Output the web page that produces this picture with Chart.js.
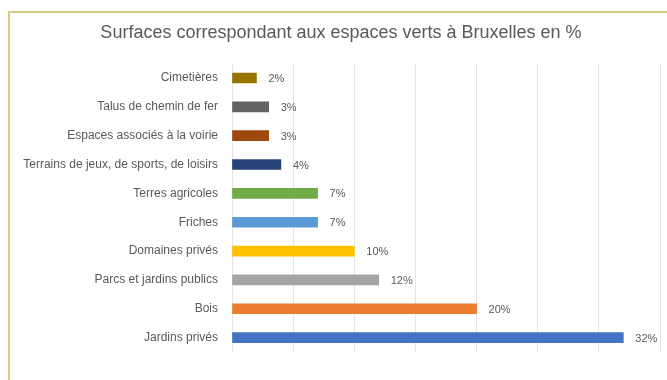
<!DOCTYPE html>
<html>
<head>
<meta charset="utf-8">
<script src="https://cdn.jsdelivr.net/npm/chart.js@4"></script>
<style>
  html, body { margin: 0; padding: 0; background: #fff; }
  #wrap { position: relative; width: 667px; height: 380px; overflow: hidden; }
  #frame { position: absolute; left: 8px; top: 11px; width: 700px; height: 400px;
           border-left: 2px solid #d5cc8a; border-top: 2px solid #d5cc8a; }
  canvas { position: absolute; left: 0; top: 0; }
</style>
</head>
<body>
<div id="wrap">
  <div id="frame"></div>
  <canvas id="chart" width="667" height="380"></canvas>
</div>
<script>
// catégories, de haut en bas
const categories = [
    'Cimetières',
    'Talus de chemin de fer',
    'Espaces associés à la voirie',
    'Terrains de jeux, de sports, de loisirs',
    'Terres agricoles',
    'Friches',
    'Domaines privés',
    'Parcs et jardins publics',
    'Bois',
    'Jardins privés'
];
const values = [2, 3, 3, 4, 7, 7, 10, 12, 20, 32];
const barColors = ['#997300', '#636363', '#9e480e', '#264478', '#70ad47',
                   '#5b9bd5', '#ffc000', '#a5a5a5', '#ed7d31', '#4472c4'];
const xTicks = [0, 5, 10, 15, 20, 25, 30, 35];

const TEXT = '#595959';
const FONT = "'Liberation Sans', sans-serif";

// étiquettes de valeur au bout des barres
const valueLabels = {
    id: 'valueLabels',
    afterDatasetsDraw(chart) {
        const { ctx } = chart;
        const meta = chart.getDatasetMeta(0);
        ctx.save();
        ctx.font = '11px ' + FONT;
        ctx.fillStyle = TEXT;
        ctx.textBaseline = 'middle';
        meta.data.forEach((bar, i) => {
            ctx.fillText(values[i] + '%', bar.x + 12, bar.y + 1);
        });
        ctx.restore();
    }
};

new Chart(document.getElementById('chart'), {
    type: 'bar',
    data: {
        labels: categories,
        datasets: [{
            data: values,
            backgroundColor: barColors,
            barThickness: 10
        }]
    },
    options: {
        indexAxis: 'y',
        responsive: false,
        animation: false,
        layout: { padding: { top: 0, right: 7, bottom: 28, left: 22 } },
        scales: {
            x: {
                min: 0, max: 35,
                afterBuildTicks(scale) { scale.ticks = xTicks.map(v => ({ value: v })); },
                ticks: { display: false },
                grid: { color: '#e4e4e4', drawTicks: false },
                border: { display: false }
            },
            y: {
                afterFit(scale) { scale.width = 210; },
                grid: { display: false },
                border: { display: false },
                ticks: { color: TEXT, font: { family: FONT, size: 12 }, padding: 6 }
            }
        },
        plugins: {
            legend: { display: false },
            tooltip: { enabled: false },
            title: {
                display: true,
                text: 'Surfaces correspondant aux espaces verts à Bruxelles en %',
                color: TEXT,
                font: { family: FONT, size: 18, weight: 'normal' },
                padding: { top: 22, bottom: 20 }
            }
        }
    },
    plugins: [valueLabels]
});
</script>
</body>
</html>
